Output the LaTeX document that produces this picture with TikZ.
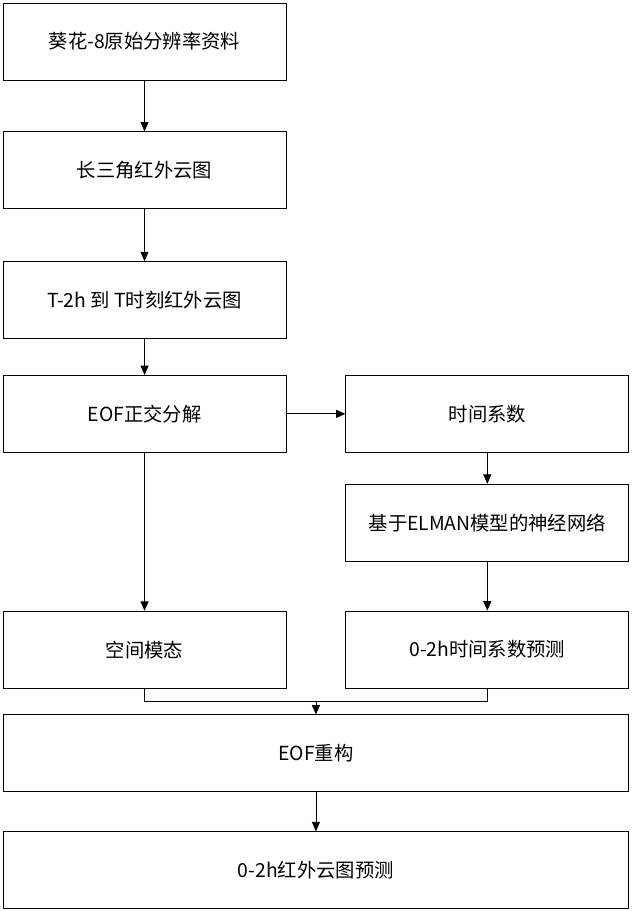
\documentclass[tikz,border=0pt]{standalone}
\usepackage{fontspec}
\setmainfont{Noto Sans CJK SC}
\usepackage{tikz}
\usetikzlibrary{arrows.meta,positioning,calc}

\begin{document}
\begin{tikzpicture}[
    box/.style={rectangle, draw, line width=0.6pt, minimum width=212.25pt, minimum height=57.75pt, align=center, inner sep=2pt, font=\fontsize{14.5}{17}\selectfont},
    widebox/.style={box, minimum width=468.75pt},
    arrow/.style={-{Triangle[length=7pt,width=6pt]}, line width=0.6pt}
]
    \useasboundingbox (0,0) rectangle (474.75pt,-683.25pt);

    % Left column
    \node[box] (himawari) at (108.4pt,-31.1pt) {葵花-8原始分辨率资料};
    \node[box, below=38.25pt of himawari] (yrd) {长三角红外云图};
    \node[box, below=39pt of yrd] (window) {T-2h 到 T时刻红外云图};
    \node[box, below=27pt of window] (eof) {EOF正交分解};
    \node[box, below=118.5pt of eof] (spatial) {空间模态};

    % Right column
    \node[box, right=44.25pt of eof] (coef) {时间系数};
    \node[box, below=23.25pt of coef] (elman) {基于ELMAN模型的神经网络};
    \node[box, below=36.75pt of elman] (coefpred) {0-2h时间系数预测};

    % Bottom
    \coordinate (mid) at ($(spatial.south)!0.5!(coefpred.south)$);
    \coordinate[below=9.75pt of mid] (join);
    \node[widebox, below=19.5pt of mid] (recon) {EOF重构};
    \node[widebox, below=29.25pt of recon] (forecast) {0-2h红外云图预测};

    % Arrows
    \draw[arrow] (himawari) -- (yrd);
    \draw[arrow] (yrd) -- (window);
    \draw[arrow] (window) -- (eof);
    \draw[arrow] (eof) -- (coef);
    \draw[arrow] (eof) -- (spatial);
    \draw[arrow] (coef) -- (elman);
    \draw[arrow] (elman) -- (coefpred);
    \draw[line width=0.6pt] (spatial.south) |- (join) -| (coefpred.south);
    \draw[arrow] (join) -- (recon);
    \draw[arrow] (recon) -- (forecast);
\end{tikzpicture}
\end{document}
